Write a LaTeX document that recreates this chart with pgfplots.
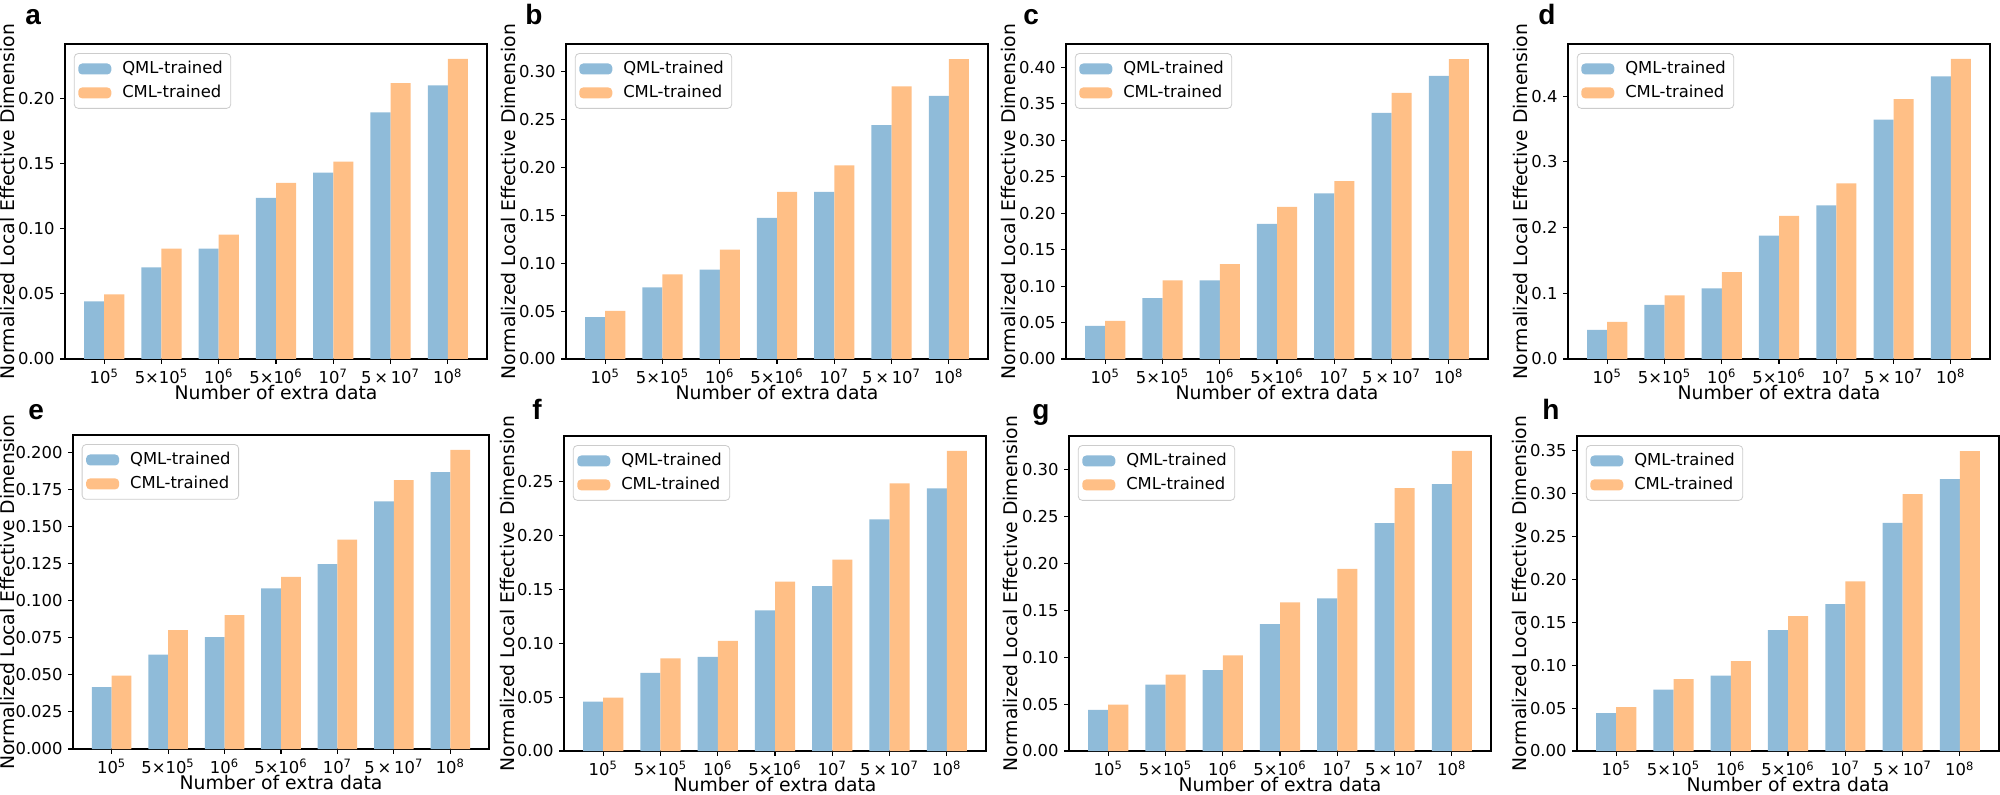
\documentclass[border=0pt]{standalone}
\usepackage{pgfplots}
\pgfplotsset{compat=1.18}
\usetikzlibrary{calc}
\usepackage{fontspec}
\setmainfont{DejaVu Sans}
\newfontfamily\letterfont{Liberation Sans}

\definecolor{qml}{RGB}{143,187,217}
\definecolor{cml}{RGB}{255,191,134}

\pgfplotsset{
  panel/.style={
    scale only axis, width=211pt, height=157.5pt,
    anchor=north west,
    xmin=-0.685, xmax=6.685, ymin=0,
    xtick={0,...,6},
    xticklabels={10\textsuperscript{5}, 5×10\textsuperscript{5}, 10\textsuperscript{6}, 5×10\textsuperscript{6}, 10\textsuperscript{7}, 5\,×\,10\textsuperscript{7}, 10\textsuperscript{8}},
    tick pos=left, tick align=outside, major tick length=2.3pt,
    axis line style={black, line width=0.55pt},
    tick style={black, line width=0.55pt},
    /pgf/number format/assume math mode=true,
    xlabel={Number of extra data},
    ylabel={Normalized Local Effective Dimension},
    label style={font=\fontsize{9.4}{11}\selectfont},
    xlabel style={at={($(rel axis cs:0.5,0)+(0,-13pt)$)}, anchor=north, inner sep=0pt},
    ylabel style={at={($(rel axis cs:0,0.5)+(-\ylo,0)$)}, anchor=south, inner sep=0pt},
    legend cell align=left,
    legend image code/.code={\fill[##1] (0pt,-2.75pt) rectangle (16.5pt,2.75pt);},
    legend style={at={(0.021,0.971)}, anchor=north west, draw=black!20,
      rounded corners=2pt, inner xsep=2pt, inner ysep=2pt,
      column sep=3.5pt, row sep=0.5pt},
  },
  prec/.style={yticklabel style={/pgf/number format/.cd, fixed, fixed zerofill, precision=#1}},
  qbar/.style={ybar, bar width=0.35, bar shift=-0.175, fill=qml, draw=none},
  cbar/.style={ybar, bar width=0.35, bar shift=0.175, fill=cml, draw=none},
}
\newcommand{\ylo}{25pt}

\begin{document}
\fontsize{8.2}{10}\selectfont
\begin{tikzpicture}
\useasboundingbox (0,0) rectangle (1000pt,-397.5pt);

% a
\begin{axis}[panel, prec=2, at={(32.5pt,-22pt)}, ymax=0.2415,
  ytick={0,0.05,0.10,0.15,0.20}]
\addplot[qbar] coordinates {(0,0.0441) (1,0.0703) (2,0.0846) (3,0.1236) (4,0.1428) (5,0.1890) (6,0.2097)};
\addlegendentry{QML-trained}
\addplot[cbar] coordinates {(0,0.0495) (1,0.0846) (2,0.0954) (3,0.1351) (4,0.1513) (5,0.2115) (6,0.2300)};
\addlegendentry{CML-trained}
\end{axis}

% b
\begin{axis}[panel, prec=2, at={(283pt,-22pt)}, ymax=0.3289,
  ytick={0,0.05,0.10,0.15,0.20,0.25,0.30}]
\addplot[qbar] coordinates {(0,0.0436) (1,0.0747) (2,0.0932) (3,0.1473) (4,0.1746) (5,0.2441) (6,0.2748)};
\addlegendentry{QML-trained}
\addplot[cbar] coordinates {(0,0.0503) (1,0.0883) (2,0.1142) (3,0.1746) (4,0.2022) (5,0.2846) (6,0.3132)};
\addlegendentry{CML-trained}
\end{axis}

% c
\begin{axis}[panel, prec=2, at={(533pt,-22pt)}, ymax=0.4321,
  ytick={0,0.05,0.10,0.15,0.20,0.25,0.30,0.35,0.40}]
\addplot[qbar] coordinates {(0,0.0454) (1,0.0835) (2,0.1078) (3,0.1853) (4,0.2271) (5,0.3376) (6,0.3885)};
\addlegendentry{QML-trained}
\addplot[cbar] coordinates {(0,0.0523) (1,0.1078) (2,0.1303) (3,0.2087) (4,0.2440) (5,0.3651) (6,0.4115)};
\addlegendentry{CML-trained}
\end{axis}

% d
\renewcommand{\ylo}{20pt}
\begin{axis}[panel, prec=1, at={(784pt,-22pt)}, ymax=0.4793,
  ytick={0,0.1,0.2,0.3,0.4}]
\addplot[qbar] coordinates {(0,0.0443) (1,0.0824) (2,0.1074) (3,0.1878) (4,0.2336) (5,0.3644) (6,0.4300)};
\addlegendentry{QML-trained}
\addplot[cbar] coordinates {(0,0.0565) (1,0.0967) (2,0.1323) (3,0.2178) (4,0.2672) (5,0.3954) (6,0.4565)};
\addlegendentry{CML-trained}
\end{axis}

% e
\renewcommand{\ylo}{29pt}
\begin{axis}[panel, prec=3, at={(36.5pt,-217.5pt)}, width=208pt, height=157pt, ymax=0.2117,
  ytick={0,0.025,0.05,0.075,0.10,0.125,0.15,0.175,0.20}]
\addplot[qbar] coordinates {(0,0.0418) (1,0.0636) (2,0.0755) (3,0.1083) (4,0.1247) (5,0.1670) (6,0.1867)};
\addlegendentry{QML-trained}
\addplot[cbar] coordinates {(0,0.0494) (1,0.0802) (2,0.0903) (3,0.1160) (4,0.1411) (5,0.1813) (6,0.2016)};
\addlegendentry{CML-trained}
\end{axis}

% f
\renewcommand{\ylo}{24.5pt}
\begin{axis}[panel, prec=2, at={(282pt,-218pt)}, ymax=0.2921,
  ytick={0,0.05,0.10,0.15,0.20,0.25}]
\addplot[qbar] coordinates {(0,0.0458) (1,0.0725) (2,0.0874) (3,0.1304) (4,0.1530) (5,0.2147) (6,0.2435)};
\addlegendentry{QML-trained}
\addplot[cbar] coordinates {(0,0.0496) (1,0.0858) (2,0.1022) (3,0.1571) (4,0.1775) (5,0.2481) (6,0.2782)};
\addlegendentry{CML-trained}
\end{axis}

% g
\renewcommand{\ylo}{25.5pt}
\begin{axis}[panel, prec=2, at={(534.5pt,-218pt)}, ymax=0.3360,
  ytick={0,0.05,0.10,0.15,0.20,0.25,0.30}]
\addplot[qbar] coordinates {(0,0.0438) (1,0.0709) (2,0.0862) (3,0.1354) (4,0.1628) (5,0.2430) (6,0.2846)};
\addlegendentry{QML-trained}
\addplot[cbar] coordinates {(0,0.0495) (1,0.0816) (2,0.1019) (3,0.1585) (4,0.1942) (5,0.2804) (6,0.3200)};
\addlegendentry{CML-trained}
\end{axis}

% h
\renewcommand{\ylo}{25pt}
\begin{axis}[panel, prec=2, at={(788.5pt,-218pt)}, ymax=0.3668,
  ytick={0,0.05,0.10,0.15,0.20,0.25,0.30,0.35}]
\addplot[qbar] coordinates {(0,0.0440) (1,0.0716) (2,0.0879) (3,0.1408) (4,0.1711) (5,0.2657) (6,0.3166)};
\addlegendentry{QML-trained}
\addplot[cbar] coordinates {(0,0.0510) (1,0.0836) (2,0.1046) (3,0.1571) (4,0.1976) (5,0.2991) (6,0.3493)};
\addlegendentry{CML-trained}
\end{axis}

% panel letters
\begin{scope}[every node/.style={anchor=base west, inner sep=0pt, font=\letterfont\bfseries\fontsize{14}{16}\selectfont}]
\node at (12.5pt,-12.5pt) {a};
\node at (262.5pt,-12.5pt) {b};
\node at (511.5pt,-12.5pt) {c};
\node at (769pt,-12.5pt) {d};
\node at (14pt,-210pt) {e};
\node at (266pt,-210pt) {f};
\node at (516pt,-210pt) {g};
\node at (771pt,-210pt) {h};
\end{scope}
\end{tikzpicture}
\end{document}
